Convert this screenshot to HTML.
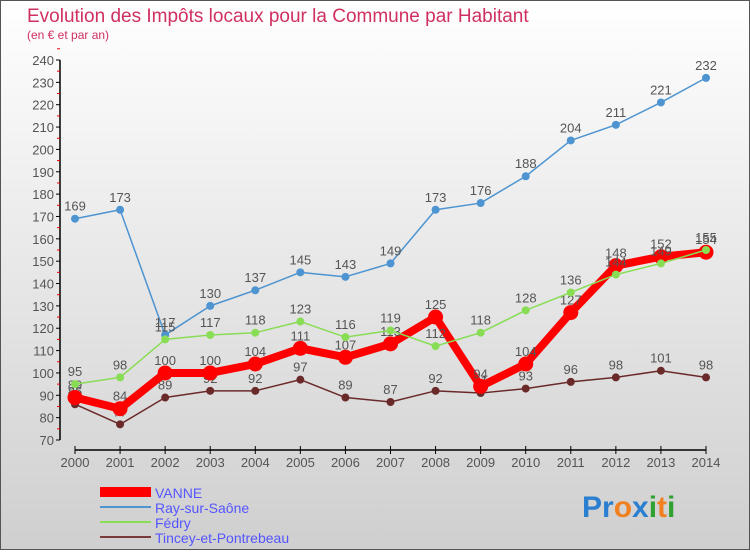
<!DOCTYPE html>
<html><head><meta charset="utf-8"><style>
body{margin:0;}
#c{width:750px;height:550px;position:relative;font-family:"Liberation Sans","DejaVu Sans",sans-serif;}
</style></head><body>
<div id="c">
<svg id="s" width="750" height="550" xmlns="http://www.w3.org/2000/svg">
<defs><linearGradient id="bg" x1="0" y1="0" x2="0" y2="1"><stop offset="0" stop-color="#ffffff"/><stop offset="1" stop-color="#cfcfcf"/></linearGradient></defs>
<rect x="0.5" y="0.5" width="749" height="549" fill="url(#bg)" stroke="#555"/>
<text x="27" y="22" font-size="19" fill="#d03060">Evolution des Impôts locaux pour la Commune par Habitant</text>
<text x="27" y="39" font-size="12" fill="#d03060">(en € et par an)</text>
<g id="axes"></g><g id="series"></g>
<g>
<rect x="100" y="487" width="51" height="10" fill="#ff0000"/>
<text x="155" y="498" font-size="14" fill="#5555ff">VANNE</text>
<line x1="100" y1="507" x2="151" y2="507" stroke="#4d94d0" stroke-width="2"/>
<text x="155" y="513" font-size="14" fill="#5555ff">Ray-sur-Saône</text>
<line x1="100" y1="522" x2="151" y2="522" stroke="#88dd55" stroke-width="2"/>
<text x="155" y="528" font-size="14" fill="#5555ff">Fédry</text>
<line x1="100" y1="537" x2="151" y2="537" stroke="#7a3a3a" stroke-width="2"/>
<text x="155" y="543" font-size="14" fill="#5555ff">Tincey-et-Pontrebeau</text>
</g>
<text x="582" y="517" font-size="30" font-weight="bold"><tspan fill="#2a7fd0">Pr</tspan><tspan fill="#f08020">o</tspan><tspan fill="#2a7fd0">x</tspan><tspan fill="#30a030">i</tspan><tspan fill="#f08020">t</tspan><tspan fill="#30a030">i</tspan></text>
</svg></div>
<script>
const years=["2000","2001","2002","2003","2004","2005","2006","2007","2008","2009","2010","2011","2012","2013","2014"];
const yTicks=[70,80,90,100,110,120,130,140,150,160,170,180,190,200,210,220,230,240];
const vanne=[89,84,100,100,104,111,107,113,125,94,104,127,148,152,154];
const ray=[169,173,117,130,137,145,143,149,173,176,188,204,211,221,232];
const fedry=[95,98,115,117,118,123,116,119,112,118,128,136,144,149,155];
const tincey=[86,77,89,92,92,97,89,87,92,91,93,96,98,101,98];
const NS="http://www.w3.org/2000/svg";
const X=i=>75+i*(706-75)/(years.length-1);
const Y=v=>440-(v-70)*(440-60)/170;
function mk(t,a,p){const e=document.createElementNS(NS,t);for(const k in a)e.setAttribute(k,a[k]);p.appendChild(e);return e;}
const ax=document.getElementById('axes'),sg=document.getElementById('series');
let l=mk('line',{x1:60,y1:60,x2:60,y2:440,stroke:'#000','stroke-width':1.5},ax);


yTicks.forEach(v=>{
 mk('line',{x1:56,y1:Y(v),x2:60,y2:Y(v),stroke:'#000'},ax);
 mk('line',{x1:57,y1:Y(v+5),x2:60,y2:Y(v+5),stroke:'#e00'},ax);
 const t=mk('text',{x:54,y:Y(v)+5,'text-anchor':'end','font-size':13,fill:'#555'},ax);t.textContent=v;
 
 
});
l=mk('line',{x1:75,y1:450,x2:706,y2:450,stroke:'#000','stroke-width':1.5},ax);


years.forEach((y,i)=>{
 mk('line',{x1:X(i),y1:446,x2:X(i),y2:454,stroke:'#000'},ax);
 const t=mk('text',{x:X(i),y:467,'text-anchor':'middle','font-size':13,fill:'#555'},ax);t.textContent=y;
 
 
});
function series(d,col,w,r,name){
 const g=mk('g',{},sg);
 
 
 const p=mk('polyline',{points:d.map((v,i)=>X(i)+','+Y(v)).join(' '),fill:'none',stroke:col,'stroke-width':w,'stroke-linejoin':'round'},g);
 
 
 d.forEach((v,i)=>{
  const c=mk('circle',{cx:X(i),cy:Y(v),r:r,fill:col},g);
  
  
  const t=mk('text',{x:X(i),y:Y(v)-8,'text-anchor':'middle','font-size':13,fill:'#555'},g);t.textContent=v;
  
  
 });
}
series(ray,'#4d94d0',1.5,4,'ray');
series(tincey,'#6b2a2a',1.5,4,'tincey');
series(vanne,'#ff0000',8,7.5,'vanne');
series(fedry,'#88dd55',1.5,4,'fedry');
</script>
</body></html>
